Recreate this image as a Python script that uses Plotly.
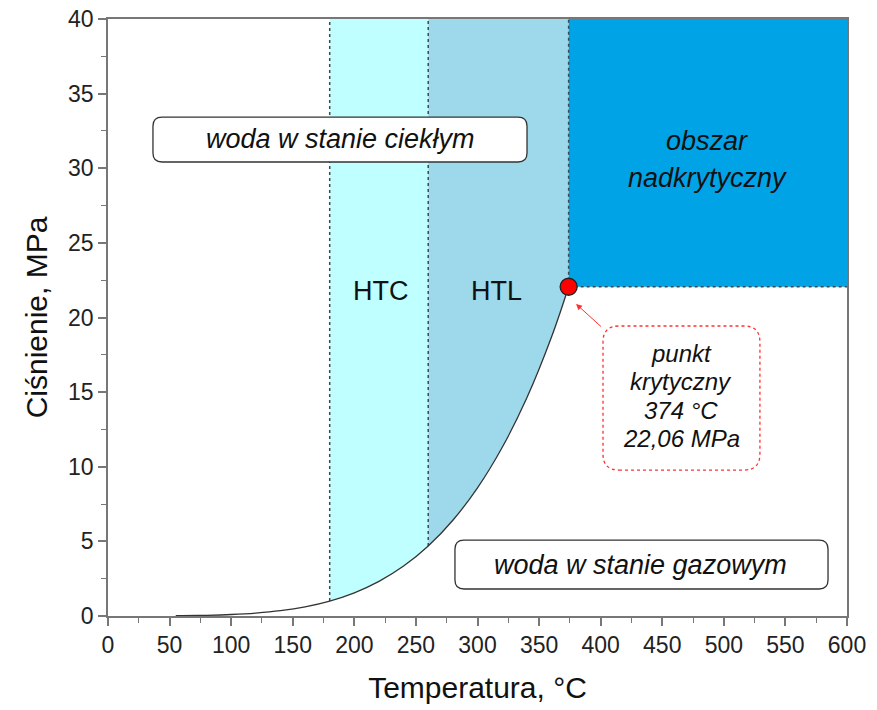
import plotly.graph_objects as go

# Saturated water vapour pressure (steam tables)
temp_c = [55, 60, 80, 100, 120, 140, 160, 180, 200, 220, 240, 260, 280, 300, 320, 340, 360, 374]
pressure_mpa = [0.0158, 0.0199, 0.0474, 0.101, 0.199, 0.361, 0.618, 1.003, 1.555, 2.320,
                3.347, 4.692, 6.417, 8.588, 11.29, 14.60, 18.67, 22.06]

# Process windows and critical point
htc_range = [180, 260]
htl_range = [260, 374]
crit_t, crit_p = 374, 22.06
x_max, y_max = 600, 40

x_ticks = list(range(0, 601, 50))
y_ticks = list(range(0, 41, 5))

FONT = "Liberation Sans, Arial, sans-serif"
HTC_COLOR = "#BFFFFF"
HTL_COLOR = "#9DD9EA"
SC_COLOR = "#00A3E6"
DOT_COLOR = "#3a4a55"

# plot area geometry (for converting pixel radii to data units)
PLOT_W, PLOT_H = 739, 597
px_x = x_max / PLOT_W
px_y = y_max / PLOT_H


def segment(lo, hi):
    xs, ys = [], []
    for t, p in zip(temp_c, pressure_mpa):
        if lo <= t <= hi:
            xs.append(t)
            ys.append(p)
    return xs, ys


def p_at(t):
    return pressure_mpa[temp_c.index(t)]


def rounded_box(x0, x1, y0, y1, r_px=9):
    rx, ry = r_px * px_x, r_px * px_y
    return (f"M {x0+rx},{y0} L {x1-rx},{y0} Q {x1},{y0} {x1},{y0+ry} "
            f"L {x1},{y1-ry} Q {x1},{y1} {x1-rx},{y1} L {x0+rx},{y1} "
            f"Q {x0},{y1} {x0},{y1-ry} L {x0},{y0+ry} Q {x0},{y0} {x0+rx},{y0} Z")


fig = go.Figure()

# HTC band
hx, hy = segment(*htc_range)
fig.add_trace(go.Scatter(x=hx + [htc_range[1], htc_range[0]], y=hy + [y_max, y_max],
                         fill="toself", fillcolor=HTC_COLOR, mode="none",
                         hoverinfo="skip", showlegend=False))
# HTL band
lx, ly = segment(*htl_range)
fig.add_trace(go.Scatter(x=lx + [htl_range[1], htl_range[0]], y=ly + [y_max, y_max],
                         fill="toself", fillcolor=HTL_COLOR, mode="none",
                         hoverinfo="skip", showlegend=False))
# supercritical region
fig.add_trace(go.Scatter(x=[crit_t, x_max, x_max, crit_t], y=[crit_p, crit_p, y_max, y_max],
                         fill="toself", fillcolor=SC_COLOR, mode="none",
                         hoverinfo="skip", showlegend=False))

# dotted boundaries
for t in htc_range:
    fig.add_trace(go.Scatter(x=[t, t], y=[p_at(t), y_max], mode="lines",
                             line=dict(color=DOT_COLOR, width=1.5, dash="dot"),
                             hoverinfo="skip", showlegend=False))
fig.add_trace(go.Scatter(x=[crit_t, crit_t], y=[crit_p, y_max], mode="lines",
                         line=dict(color=DOT_COLOR, width=1.5, dash="dot"),
                         hoverinfo="skip", showlegend=False))
fig.add_trace(go.Scatter(x=[crit_t, x_max], y=[crit_p, crit_p], mode="lines",
                         line=dict(color=DOT_COLOR, width=1.5, dash="dot"),
                         hoverinfo="skip", showlegend=False))

# saturation curve
fig.add_trace(go.Scatter(x=temp_c, y=pressure_mpa, mode="lines",
                         line=dict(color="#333333", width=1.3, shape="spline"),
                         showlegend=False))

# critical point
fig.add_trace(go.Scatter(x=[crit_t], y=[crit_p], mode="markers",
                         marker=dict(size=17, color="#FF0000", line=dict(color="#222222", width=1.3)),
                         showlegend=False, cliponaxis=False))

shapes = [
    dict(type="path", path=rounded_box(36.5, 340.2, 30.42, 33.43), xref="x", yref="y",
         line=dict(color="#333333", width=1.3), fillcolor="white", layer="above"),
    dict(type="path", path=rounded_box(281.7, 584.6, 1.81, 5.09), xref="x", yref="y",
         line=dict(color="#333333", width=1.3), fillcolor="white", layer="above"),
    dict(type="path", path=rounded_box(401.9, 529.3, 9.78, 19.43, r_px=16), xref="x", yref="y",
         line=dict(color="#FF3030", width=1.3, dash="dot"), fillcolor="white", layer="above"),
]

ann = []
def txt(x, y, s, size=27, italic=True):
    ann.append(dict(x=x, y=y, xref="x", yref="y", text=s, showarrow=False,
                    font=dict(family=FONT, size=size, color="#111111",
                              style="italic" if italic else "normal")))

txt(188.4, 31.95, "woda w stanie ciekłym")
txt(432.7, 3.45, "woda w stanie gazowym")
txt(486.5, 31.8, "obszar")
txt(486.5, 29.35, "nadkrytyczny")
txt(221.6, 21.8, "HTC", italic=False)
txt(315.8, 21.8, "HTL", italic=False)
for i, line in enumerate(["punkt", "krytyczny", f"{crit_t} °C", "22,06 MPa"]):
    txt(465.5, 17.6 - i * 1.9, line, size=24)

# arrow to the critical point
ann.append(dict(x=crit_t + 6, y=crit_p - 1.15, ax=401.5, ay=19.3, xref="x", yref="y",
                axref="x", ayref="y", text="", showarrow=True, arrowhead=2,
                arrowsize=1.2, arrowwidth=1, arrowcolor="#FF3030"))

axis_common = dict(showline=True, linecolor="#777777", linewidth=1.5, mirror=True,
                   ticks="outside", tickcolor="#777777", tickwidth=1.5, ticklen=8,
                   showgrid=False, zeroline=False, automargin=False,
                   tickfont=dict(family=FONT, size=23, color="#222222"),
                   minor=dict(ticks="outside", ticklen=5, tickcolor="#777777", tickwidth=1.2))

fig.update_xaxes(range=[0, x_max], tickvals=x_ticks, **axis_common,
                 title=dict(text="Temperatura, °C", font=dict(family=FONT, size=30, color="#111111"),
                            standoff=20))
fig.update_xaxes(minor=dict(dtick=25, tick0=0))
fig.update_yaxes(range=[0, y_max], tickvals=y_ticks, **axis_common,
                 title=dict(text="Ciśnienie, MPa", font=dict(family=FONT, size=30, color="#111111"),
                            standoff=12))
fig.update_yaxes(minor=dict(dtick=2.5, tick0=0))

fig.update_layout(width=877, height=710, margin=dict(l=108, r=30, t=19, b=94),
                  plot_bgcolor="white", paper_bgcolor="white",
                  shapes=shapes, annotations=ann, showlegend=False)

fig.write_html("out.html")
